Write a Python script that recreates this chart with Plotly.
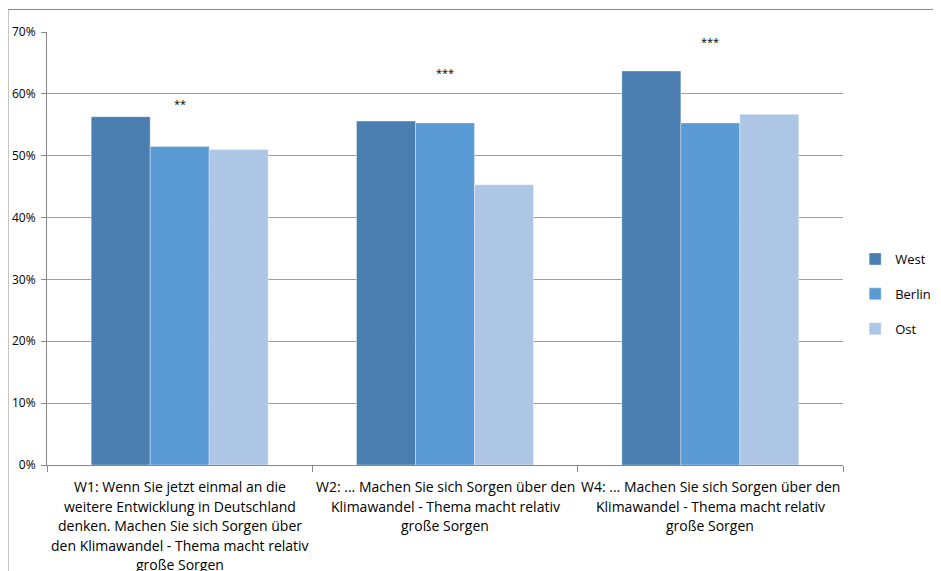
import plotly.graph_objects as go

categories = ["W1", "W2", "W4"]
label_lines = [
    ["W1: Wenn Sie jetzt einmal an die", "weitere Entwicklung in Deutschland",
     "denken. Machen Sie sich Sorgen über", "den Klimawandel - Thema macht relativ",
     "große Sorgen"],
    ["W2: ... Machen Sie sich Sorgen über den", "Klimawandel - Thema macht relativ",
     "große Sorgen"],
    ["W4: ... Machen Sie sich Sorgen über den", "Klimawandel - Thema macht relativ",
     "große Sorgen"],
]
series_names = ["West", "Berlin", "Ost"]
west = [0.563, 0.556, 0.637]
berlin = [0.515, 0.553, 0.553]
ost = [0.510, 0.453, 0.567]
stars = ["**", "***", "***"]
star_y = [0.585, 0.634, 0.684]
yticks = [0, 0.1, 0.2, 0.3, 0.4, 0.5, 0.6, 0.7]
colors = ["#4a7eb0", "#5b9bd5", "#adc6e5"]

FONT = "Open Sans"
W, H = 933, 563
n = len(categories)
fig = go.Figure()
for i, (name, vals) in enumerate(zip(series_names, [west, berlin, ost])):
    fig.add_trace(go.Bar(
        x=list(range(n)), y=vals, name=name,
        marker=dict(color=colors[i], line=dict(width=0.6, color="rgba(255,255,255,0.6)")),
        legendgroup=name, hoverinfo="skip",
    ))

for j, (s, yv) in enumerate(zip(stars, star_y)):
    fig.add_annotation(x=j, y=yv, text=s, showarrow=False, xref="x", yref="y",
                       font=dict(size=11, color="#000", family=FONT))

for j, lines in enumerate(label_lines):
    for k, line in enumerate(lines):
        fig.add_annotation(x=j, y=-0.0508 - k * 0.045, text=line, showarrow=False,
                           xref="x", yref="paper", yanchor="middle",
                           font=dict(size=14, color="#000", family=FONT))

# outer chart frame (left and top edges)
fig.add_shape(type="line", xref="paper", yref="paper", x0=-0.049, x1=-0.049,
              y0=-0.3, y1=1.052, line=dict(color="#888", width=1))
fig.add_shape(type="line", xref="paper", yref="paper", x0=-0.049, x1=1.2,
              y0=1.052, y1=1.052, line=dict(color="#888", width=1))

fig.update_layout(
    width=W, height=H,
    margin=dict(l=39, r=98, t=24, b=106, autoexpand=False),
    paper_bgcolor="white", plot_bgcolor="white",
    barmode="group", bargap=0.333, bargroupgap=0,
    font=dict(family=FONT, color="#000"),
    legend=dict(xref="container", yref="container", x=0.908, y=0.492,
                xanchor="left", yanchor="middle",
                font=dict(size=13, family=FONT), tracegroupgap=15,
                bgcolor="rgba(0,0,0,0)"),
    showlegend=True,
)
fig.update_xaxes(
    range=[-0.5, n - 0.5], showticklabels=False, showgrid=False,
    showline=True, linecolor="#888", linewidth=1,
    ticks="outside", ticklen=6, tickcolor="#888",
    tickvals=[k - 0.5 for k in range(n + 1)], zeroline=False, automargin=False,
)
fig.update_yaxes(
    range=[0, 0.7], tickvals=yticks, tickformat=".0%",
    showgrid=True, gridcolor="#a0a0a0", gridwidth=1,
    showline=True, linecolor="#888", linewidth=1,
    ticks="outside", ticklen=5, tickcolor="#888", ticklabelstandoff=3,
    tickfont=dict(size=12, family=FONT), zeroline=False, automargin=False,
)

fig.write_html("out.html")
